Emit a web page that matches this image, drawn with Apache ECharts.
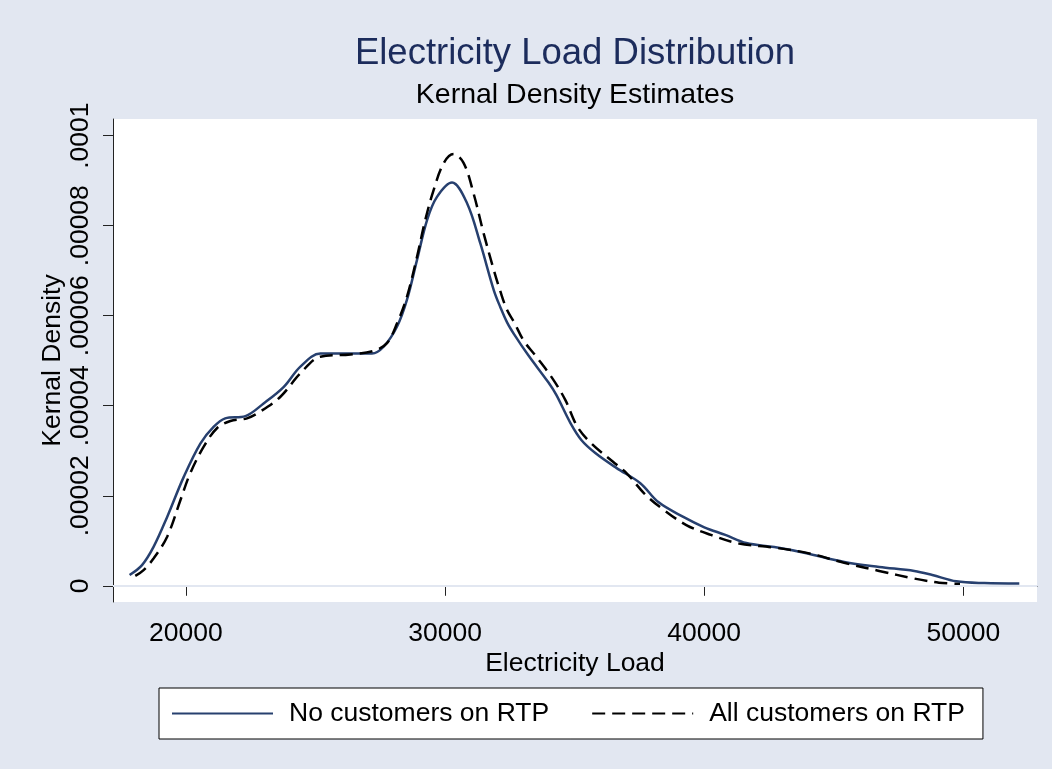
<!DOCTYPE html>
<html>
<head>
<meta charset="utf-8">
<title>Electricity Load Distribution</title>
<script src="https://cdn.jsdelivr.net/npm/echarts@6/dist/echarts.min.js"></script>
<style>
  html, body { margin: 0; padding: 0; background: #E2E7F1; }
  #main { width: 1052px; height: 769px; }
</style>
</head>
<body>
<div id="main"></div>
<script>
// kernel density curves
const noRtpLoad = [17830, 18310, 18760, 19280, 19920, 20560, 21070, 21520, 22300, 23000,
  23780, 24420, 25190, 26350, 27180, 27630, 28150, 28530, 28920, 29310,
  29690, 30270, 30850, 31360, 31880, 32134, 32404, 32674, 33214, 33986,
  34294, 34835, 35259, 35799, 36609, 37535, 38230, 39194, 40004, 40814,
  41624, 42705, 43901, 45406, 46756, 48106, 48801, 49727, 50807, 52157]
const noRtpDensity = [2.4e-6, 4.6e-6, 8.7e-6, 1.53e-5, 2.42e-5, 3.16e-5, 3.53e-5, 3.72e-5, 3.77e-5, 4.05e-5,
  4.42e-5, 4.87e-5, 5.16e-5, 5.16e-5, 5.16e-5, 5.31e-5, 5.76e-5, 6.35e-5, 7.24e-5, 8.13e-5,
  8.64e-5, 8.96e-5, 8.50e-5, 7.61e-5, 6.57e-5, 6.19e-5, 5.84e-5, 5.58e-5, 5.12e-5, 4.52e-5,
  4.24e-5, 3.62e-5, 3.24e-5, 2.95e-5, 2.62e-5, 2.28e-5, 1.86e-5, 1.53e-5, 1.30e-5, 1.13e-5,
  9.5e-6, 8.6e-6, 7.3e-6, 5.3e-6, 4.2e-6, 3.3e-6, 2.4e-6, 1.0e-6, 6e-7, 5e-7]

const allRtpLoad = [18050, 18370, 18760, 19280, 19790, 20170, 20690, 21200, 21720, 22360,
  22870, 23650, 24420, 25190, 26350, 27250, 27760, 28150, 28530, 28920,
  29240, 29560, 29950, 30330, 30720, 31100, 31490, 31880, 32130, 32390,
  32670, 33030, 33480, 34130, 34640, 35110, 35650, 36470, 37010, 37690,
  38360, 39310, 40260, 41340, 42690, 44050, 45400, 46750, 48110, 49060, 49870]
const allRtpDensity = [2.2e-6, 3.5e-6, 6.1e-6, 1.09e-5, 1.90e-5, 2.50e-5, 3.09e-5, 3.50e-5, 3.66e-5, 3.72e-5,
  3.87e-5, 4.20e-5, 4.72e-5, 5.09e-5, 5.14e-5, 5.22e-5, 5.39e-5, 5.83e-5, 6.42e-5, 7.31e-5,
  8.13e-5, 8.79e-5, 9.39e-5, 9.59e-5, 9.39e-5, 8.72e-5, 7.83e-5, 7.02e-5, 6.55e-5, 6.13e-5,
  5.85e-5, 5.45e-5, 5.12e-5, 4.62e-5, 4.13e-5, 3.53e-5, 3.16e-5, 2.76e-5, 2.50e-5, 2.05e-5,
  1.72e-5, 1.35e-5, 1.13e-5, 9.4e-6, 8.5e-6, 7.2e-6, 5.1e-6, 3.3e-6, 1.6e-6, 7e-7, 4e-7]

const seriesNames = ['No customers on RTP', 'All customers on RTP']
const xTicks = [20000, 30000, 40000, 50000]
const yTicks = [0, 0.00002, 0.00004, 0.00006, 0.00008, 0.0001]
const yTickLabels = ['0', '.00002', '.00004', '.00006', '.00008', '.0001']

const bg = '#E2E7F1'
const font = 'Liberation Sans, Arial, Helvetica, sans-serif'

function pairs (xs, ys) {
  return xs.map((x, i) => [x, ys[i]])
}

const chart = echarts.init(document.getElementById('main'))

chart.setOption({
  animation: false,
  backgroundColor: bg,
  textStyle: { fontFamily: font },
  title: [{
    text: 'Electricity Load Distribution',
    left: 575,
    top: 35,
    padding: 0,
    textAlign: 'center',
    textStyle: { fontFamily: font, fontSize: 36.5, fontWeight: 'normal', color: '#1C2C5C' }
  }, {
    text: 'Kernal Density Estimates',
    left: 575,
    top: 81,
    padding: 0,
    textAlign: 'center',
    textStyle: { fontFamily: font, fontSize: 28.5, fontWeight: 'normal', color: '#000' }
  }],
  grid: {
    left: 113,
    right: 15,
    top: 119,
    bottom: 167,
    show: true,
    backgroundColor: '#fff',
    borderWidth: 0,
    outerBoundsMode: 'none'
  },
  legend: {
    data: seriesNames,
    left: 159,
    top: 688,
    padding: [12, 18, 12, 12],
    itemWidth: 101,
    itemHeight: 26,
    itemGap: 42,
    backgroundColor: '#fff',
    borderColor: '#000',
    borderWidth: 1,
    // keep only the line in the key, hide the marker
    itemStyle: { opacity: 0 },
    textStyle: { fontFamily: font, fontSize: 26.5, color: '#000', padding: [0, 0, 0, 11] }
  },
  xAxis: {
    type: 'value',
    min: 17190,
    max: 52840,
    name: 'Electricity Load',
    nameLocation: 'middle',
    nameGap: 48,
    nameMoveOverlap: false,
    nameTextStyle: { fontFamily: font, fontSize: 26.5, color: '#000' },
    axisLine: { show: true, lineStyle: { color: '#222', width: 1 } },
    axisTick: { show: true, length: 10, customValues: xTicks, lineStyle: { color: '#222' } },
    axisLabel: {
      customValues: xTicks,
      margin: 18,
      fontFamily: font,
      fontSize: 26.5,
      color: '#000',
      formatter: v => String(v)
    },
    splitLine: { show: false }
  },
  yAxis: {
    type: 'value',
    min: -0.0000036,
    max: 0.0001037,
    name: 'Kernal Density',
    nameLocation: 'middle',
    nameRotate: 90,
    nameGap: 47,
    nameMoveOverlap: false,
    nameTextStyle: { fontFamily: font, fontSize: 26.5, color: '#000' },
    axisLine: { show: true, lineStyle: { color: '#222', width: 1 } },
    axisTick: { show: true, length: 10, customValues: yTicks, lineStyle: { color: '#222' } },
    axisLabel: {
      customValues: yTicks,
      rotate: 90,
      margin: 19,
      fontFamily: font,
      fontSize: 26.5,
      color: '#000',
      formatter: v => {
        const i = yTicks.findIndex(t => Math.abs(t - v) < 1e-9)
        return i >= 0 ? yTickLabels[i] : ''
      }
    },
    splitLine: { show: false }
  },
  series: [{
    // horizontal grid lines only
    name: 'grid',
    type: 'line',
    data: [],
    silent: true,
    z: 1,
    markLine: {
      silent: true,
      symbol: ['none', 'none'],
      label: { show: false },
      lineStyle: { color: bg, width: 2, type: 'solid' },
      data: yTicks.map(t => ({ yAxis: t }))
    }
  }, {
    name: seriesNames[0],
    type: 'line',
    data: pairs(noRtpLoad, noRtpDensity),
    symbol: 'none',
    smooth: 0.35,
    z: 3,
    lineStyle: { color: '#27406F', width: 2.5 },
    itemStyle: { color: '#27406F' }
  }, {
    name: seriesNames[1],
    type: 'line',
    data: pairs(allRtpLoad, allRtpDensity),
    symbol: 'none',
    smooth: 0.35,
    z: 4,
    lineStyle: { color: '#000', width: 2.5, type: [13, 7] },
    itemStyle: { color: '#000' }
  }]
})
</script>
</body>
</html>
